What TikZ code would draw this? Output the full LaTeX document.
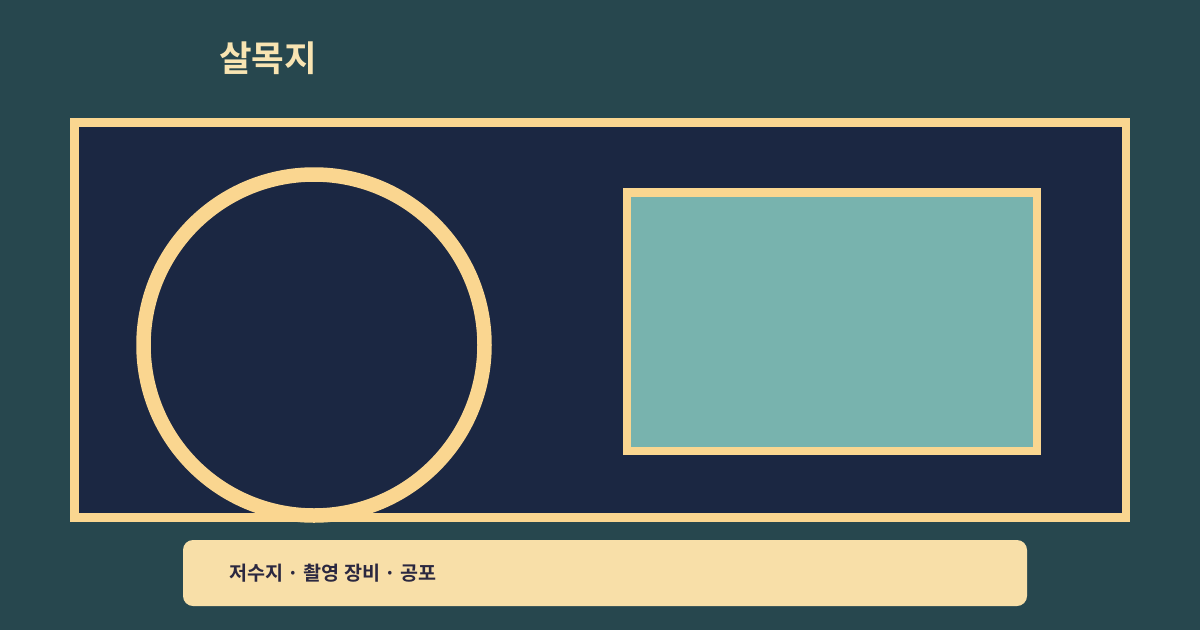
\documentclass[tikz,border=0pt]{standalone}
\usepackage{fontspec}
\newfontfamily\cjk{Noto Sans CJK KR}[BoldFont={* Bold}]
\definecolor{bgc}{HTML}{27474E}
\definecolor{navy}{HTML}{1B2742}
\definecolor{gold}{HTML}{FAD690}
\definecolor{tealc}{HTML}{78B3AE}
\definecolor{barc}{HTML}{F8DFA8}
\definecolor{txtd}{HTML}{2B2840}
\definecolor{titlec}{HTML}{F8E4B2}
\begin{document}
\begin{tikzpicture}[x=1pt,y=-1pt,
  goldline/.style={draw=gold},
  titletext/.style={font=\cjk\bfseries\fontsize{35.5}{38}\selectfont, text=titlec, inner sep=0pt, anchor=west},
  bartext/.style={font=\cjk\bfseries\fontsize{19.6}{21}\selectfont, text=txtd, inner sep=0pt, anchor=west}]
\fill[bgc] (0,0) rectangle (1200,630);
\useasboundingbox (0,0) rectangle (1200,630);
% outer frame
\fill[navy] (74.5,122.5) rectangle (1125.8,517.5);
\begin{scope}
  \clip (70,118) rectangle (1130,522);
  \draw[goldline, line width=14.5pt] (314,345) circle[radius=170.5];
\end{scope}
\draw[goldline, line width=8.5pt] (74.5,122.5) rectangle (1125.8,517.5);
% teal panel
\draw[goldline, line width=8.5pt, fill=tealc] (627,192.5) rectangle (1036.8,451);
% bottom bar
\fill[barc, rounded corners=10pt] (183,540) rectangle (1027,606);
% texts
\node[titletext] (title) at (219,58) {살목지};
\node[bartext] (tags) at (229,573) {저수지 · 촬영 장비 · 공포};
\end{tikzpicture}
\end{document}
